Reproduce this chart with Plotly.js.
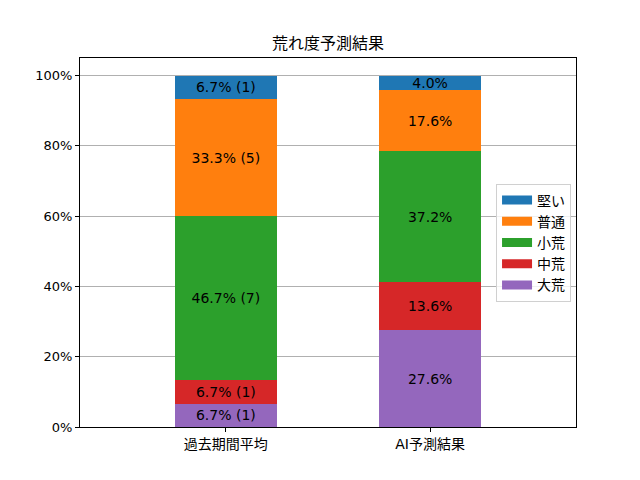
<!DOCTYPE html>
<html>
<head>
<meta charset="utf-8">
<script src="https://cdn.plot.ly/plotly-3.0.1.min.js"></script>
<style>
    html, body { margin: 0; padding: 0; background: #fff; }
    #chart { width: 640px; height: 480px; }
</style>
</head>
<body>
<div id="chart"></div>
<script>
// stacking order: bottom -> top
var categories = ['過去期間平均', 'AI予測結果'];
var levels = ['大荒', '中荒', '小荒', '普通', '堅い'];
var colors = ['#9467bd', '#d62728', '#2ca02c', '#ff7f0e', '#1f77b4'];

// past period: race counts per level (15 races)
var pastCounts = [1, 1, 7, 5, 1];
// AI prediction: percentages
var aiPct = [27.6, 13.6, 37.2, 17.6, 4.0];

var font = '"DejaVu Sans", "Noto Sans CJK JP", sans-serif';

var total = pastCounts.reduce(function (a, b) { return a + b; }, 0);

var traces = levels.map(function (name, i) {
    var past = pastCounts[i] / total * 100;
    return {
        type: 'bar',
        name: name,
        x: categories,
        y: [past, aiPct[i]],
        text: [past.toFixed(1) + '% (' + pastCounts[i] + ')', aiPct[i].toFixed(1) + '%'],
        textposition: 'inside',
        insidetextanchor: 'middle',
        textangle: 0,
        textfont: {family: font, size: 14, color: '#000'},
        constraintext: 'none',
        hoverinfo: 'name+y',
        marker: {color: colors[i], line: {width: 0}},
        width: 0.5,
        showlegend: false
    };
});

// legend entries drawn as wide patches (matplotlib style)
levels.forEach(function (name, i) {
    traces.push({
        type: 'scatter',
        mode: 'lines',
        name: name,
        x: [null],
        y: [null],
        line: {color: colors[i], width: 9},
        hoverinfo: 'skip'
    });
});

var layout = {
    width: 640,
    height: 480,
    barmode: 'stack',
    margin: {l: 80, r: 64, t: 58, b: 53, pad: 0},
    paper_bgcolor: '#fff',
    plot_bgcolor: '#fff',
    font: {family: font, size: 13, color: '#000'},
    title: {
        text: '荒れ度予測結果',
        font: {family: font, size: 16, color: '#000'},
        x: 0.5, xref: 'paper', xanchor: 'center',
        y: 1, yref: 'paper', yanchor: 'bottom', pad: {b: 9}
    },
    xaxis: {
        range: [-0.714, 1.714],
        showgrid: false,
        zeroline: false,
        showline: true, mirror: true,
        linecolor: '#000', linewidth: 1,
        ticks: 'outside', ticklen: 4, tickcolor: '#000',
        tickfont: {family: font, size: 14, color: '#000'}
    },
    yaxis: {
        range: [0, 105],
        tick0: 0, dtick: 20,
        ticksuffix: '%',
        showgrid: true, gridcolor: '#b0b0b0', gridwidth: 1,
        zeroline: false,
        showline: true, mirror: true,
        linecolor: '#000', linewidth: 1,
        ticks: 'outside', ticklen: 4, tickcolor: '#000',
        tickfont: {family: font, size: 13, color: '#000'}
    },
    legend: {
        x: 0.99, xanchor: 'right',
        y: 0.5, yanchor: 'middle',
        traceorder: 'reversed',
        bgcolor: 'rgba(255,255,255,0.8)',
        bordercolor: '#d0d0d0', borderwidth: 1,
        font: {family: font, size: 14, color: '#000'},
        itemwidth: 30
    },
    showlegend: true
};

Plotly.newPlot('chart', traces, layout, {staticPlot: true});
</script>
</body>
</html>
